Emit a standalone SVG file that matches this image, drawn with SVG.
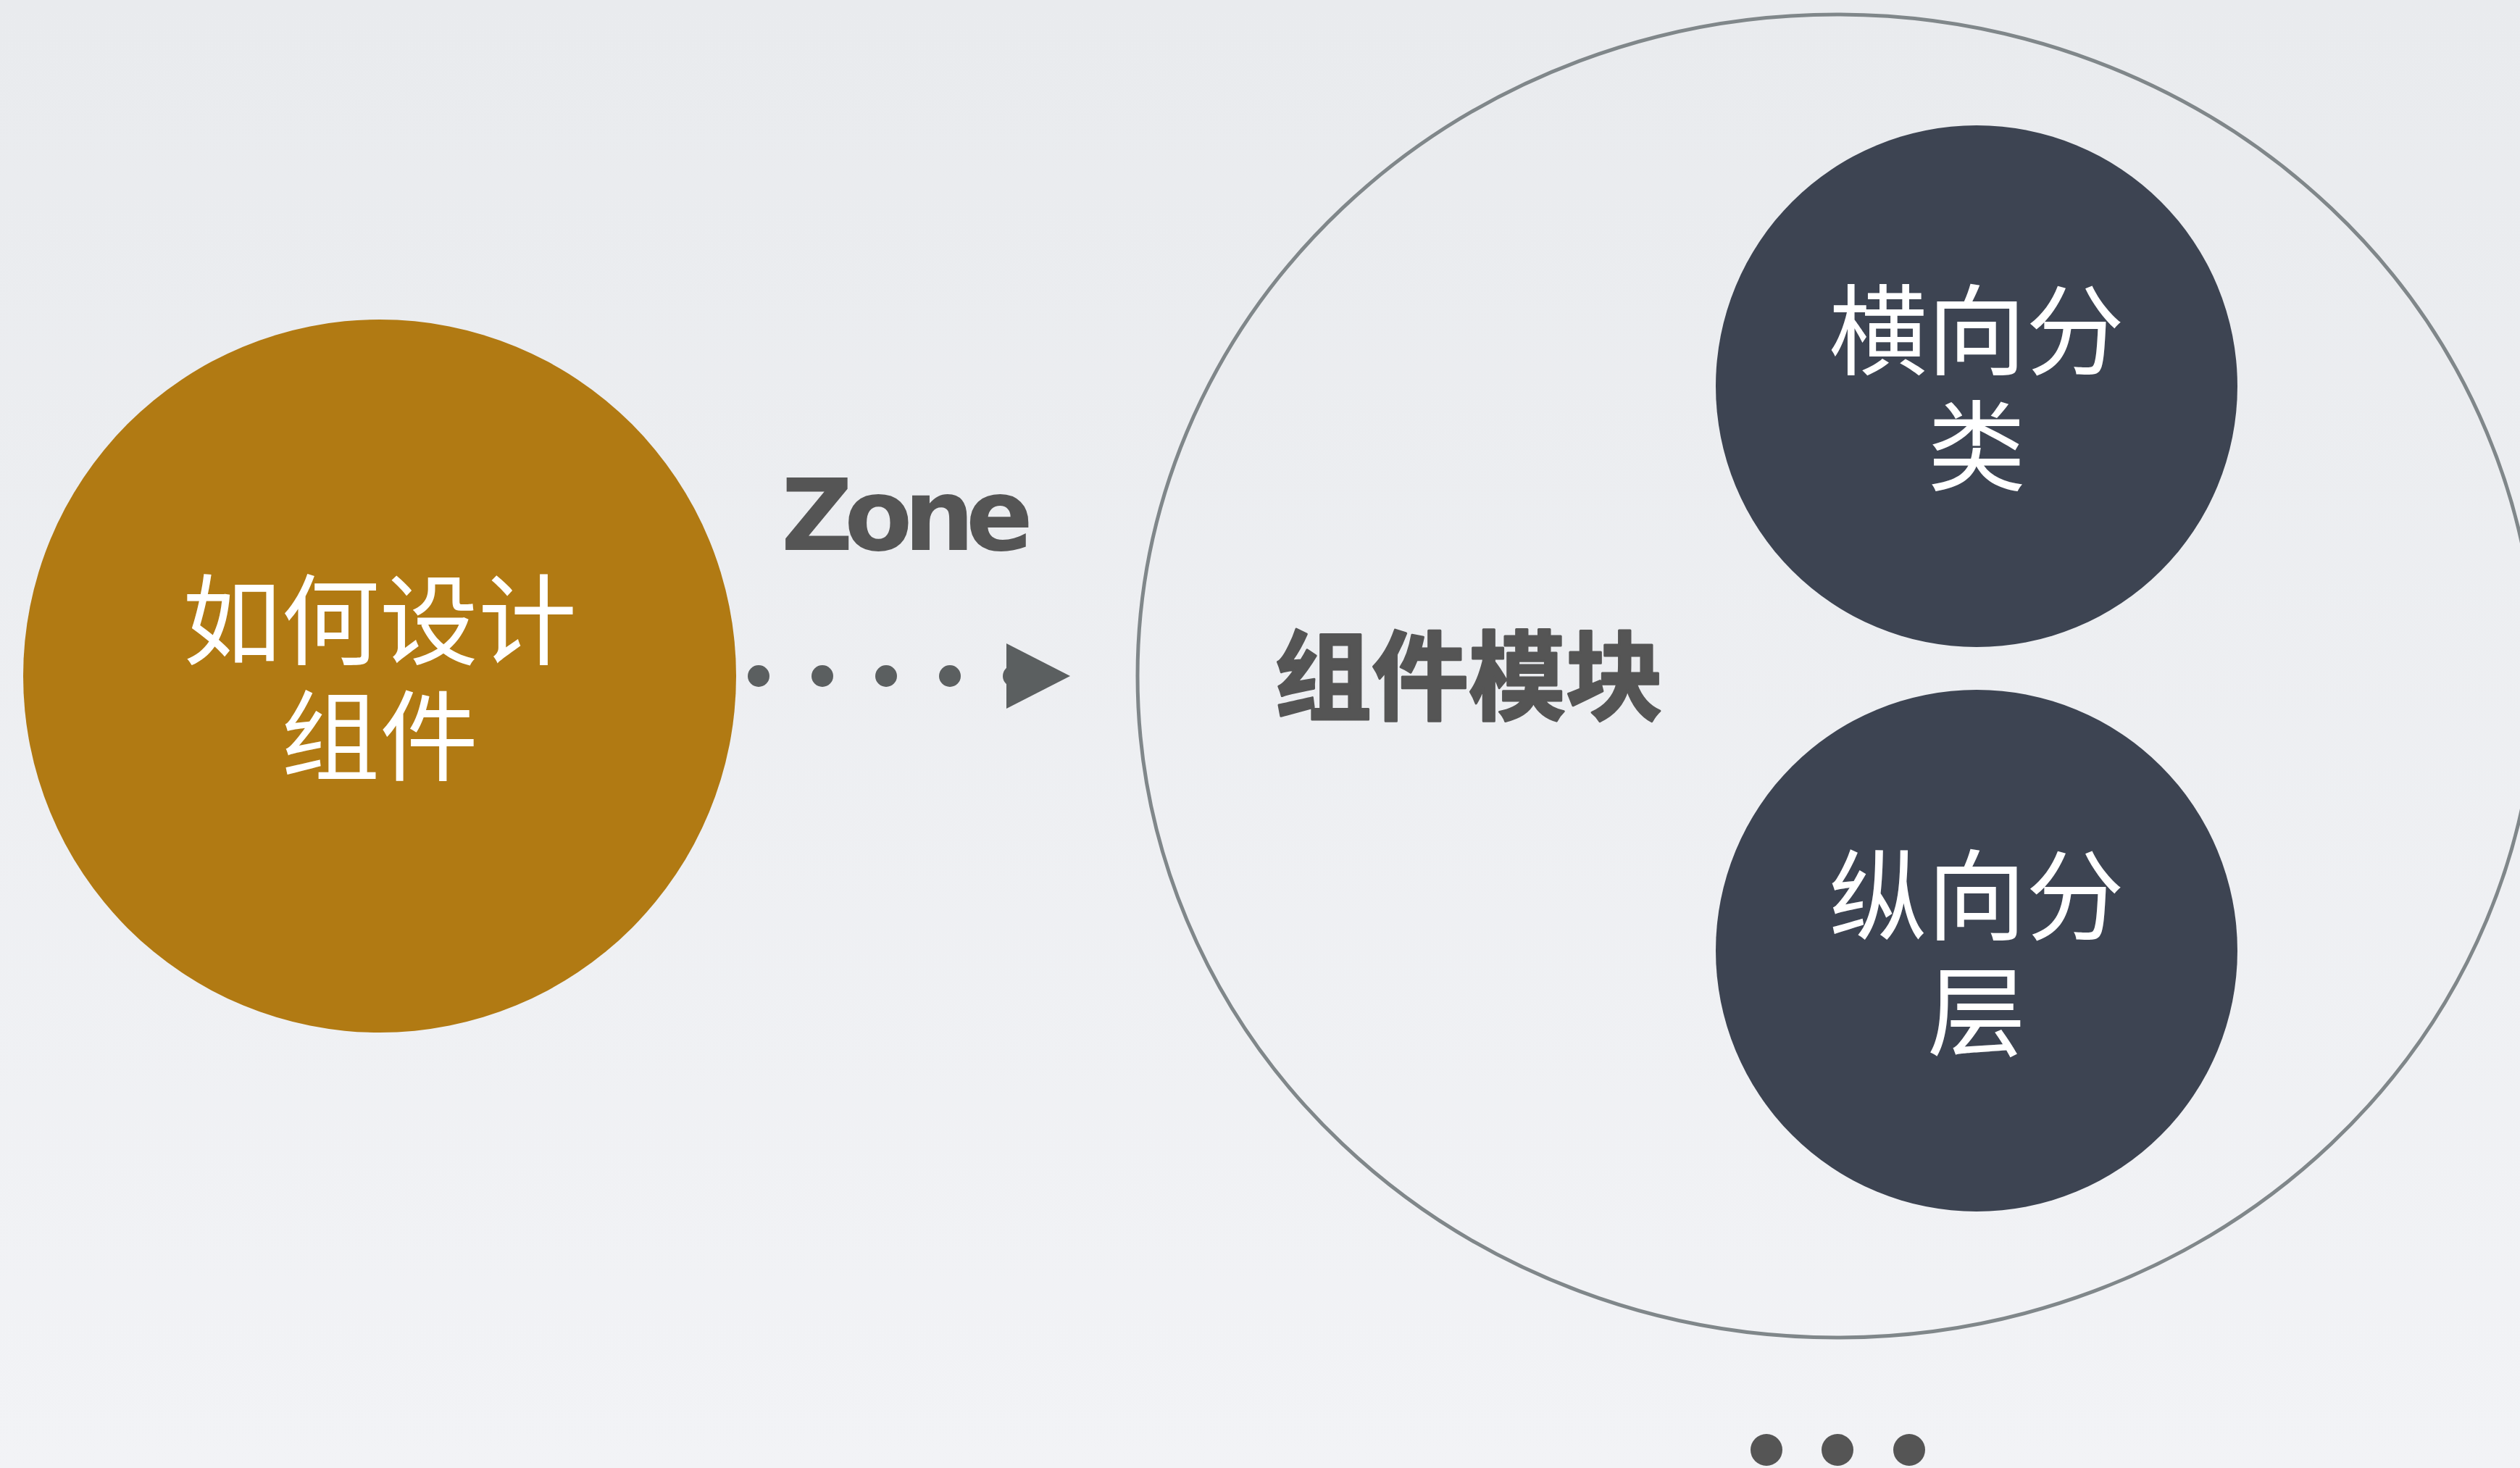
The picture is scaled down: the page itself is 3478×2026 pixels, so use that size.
<svg xmlns="http://www.w3.org/2000/svg" width="3478" height="2026" viewBox="0 0 3478 2026">
  <defs>
    <linearGradient id="bg" x1="0" y1="0" x2="0" y2="1">
      <stop offset="0" stop-color="#e9ebee"/>
      <stop offset="1" stop-color="#f2f3f6"/>
    </linearGradient>
    <style>
      .cjk { font-family: "Noto Sans CJK SC", "Noto Sans", sans-serif; }
      .white { fill: #ffffff; font-size: 136px; text-anchor: middle; }
      .dark { fill: #3d4452; }
      .dot { fill: #5b5f60; }
      .edot { fill: #555555; }
    </style>
  </defs>
  <rect x="0" y="0" width="3478" height="2026" fill="url(#bg)"/>

  <g id="module-ellipse">
    <ellipse cx="2535" cy="933" rx="965" ry="913" fill="none" stroke="#80878a" stroke-width="5"/>
    <text class="cjk" x="2027" y="983" font-size="134" font-weight="700" fill="#555555" stroke="#555555" stroke-width="3" stroke-linejoin="round" text-anchor="middle">组件模块</text>
  </g>

  <g id="node-design">
    <circle cx="524" cy="933" r="492" fill="#b17a13"/>
    <text class="cjk white" x="524" y="907">如何设计</text>
    <text class="cjk white" x="524" y="1067">组件</text>
  </g>

  <g id="node-horizontal">
    <circle class="dark" cx="2728" cy="533" r="360"/>
    <text class="cjk white" x="2728" y="507">横向分</text>
    <text class="cjk white" x="2728" y="667">类</text>
  </g>

  <g id="node-vertical">
    <circle class="dark" cx="2728" cy="1312" r="360"/>
    <text class="cjk white" x="2728" y="1287">纵向分</text>
    <text class="cjk white" x="2728" y="1447">层</text>
  </g>

  <g id="connectors">
    <circle class="dot" cx="1047" cy="933" r="15"/>
    <circle class="dot" cx="1135" cy="933" r="15"/>
    <circle class="dot" cx="1223" cy="933" r="15"/>
    <circle class="dot" cx="1311" cy="933" r="15"/>
    <circle class="dot" cx="1399" cy="933" r="15"/>
    <polygon class="dot" points="1389,888 1477,933 1389,978"/>
    <text x="1078" y="759" font-family="'DejaVu Sans', 'Open Sans', sans-serif" font-weight="700" font-size="137" letter-spacing="-12" fill="#555555">Zone</text>
  </g>

  <g id="ellipsis">
    <circle class="edot" cx="2438" cy="2001" r="22"/>
    <circle class="edot" cx="2536" cy="2001" r="22"/>
    <circle class="edot" cx="2635" cy="2001" r="22"/>
  </g>
</svg>
